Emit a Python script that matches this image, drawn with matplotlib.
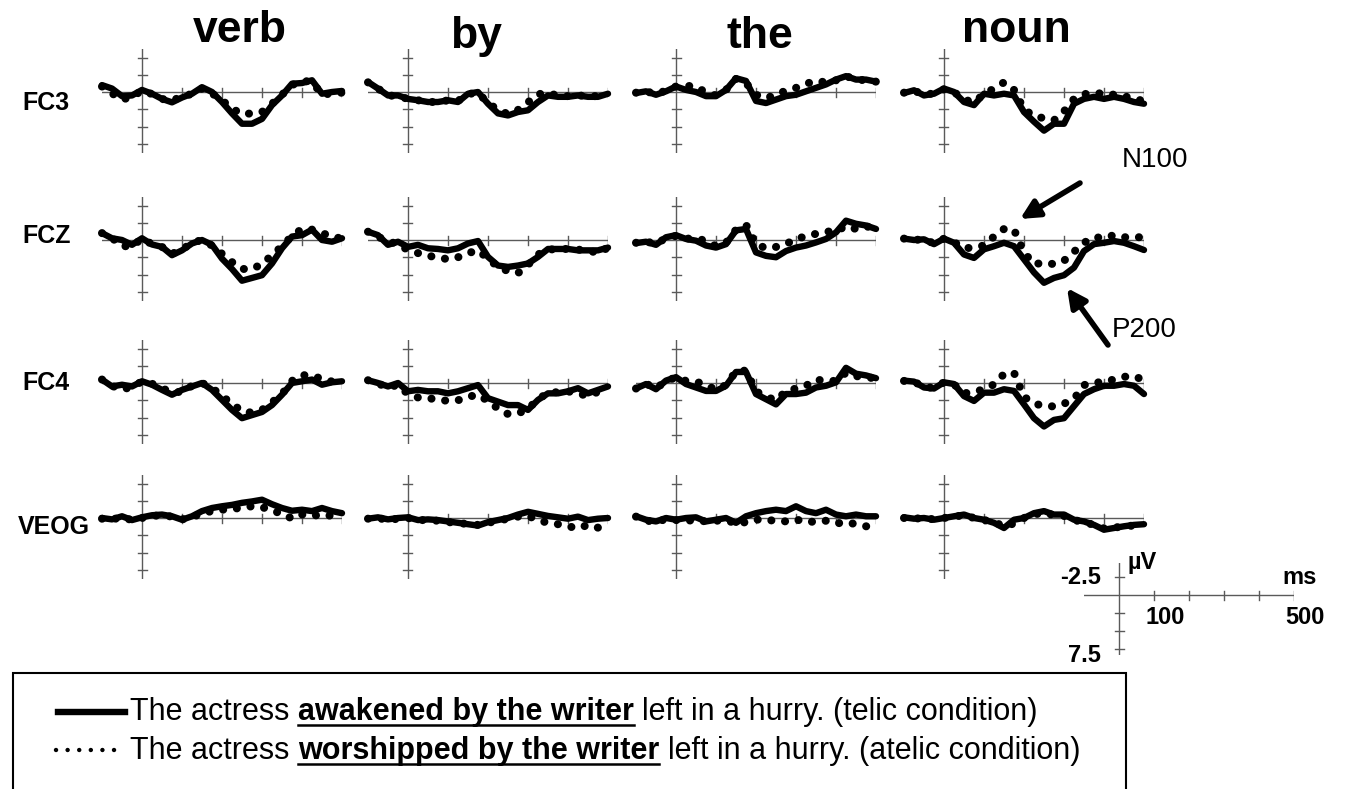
import matplotlib
matplotlib.use("Agg")
import matplotlib.pyplot as plt
from matplotlib.lines import Line2D
from matplotlib.patches import Rectangle, FancyArrowPatch

W, H = 1346, 789
FONT = "Liberation Sans"

# time axis (ms) shared by every waveform
TIMES = [-100, -75, -50, -25, 0, 25, 50, 75, 100, 125, 150, 175, 200,
         225, 250, 275, 300, 325, 350, 375, 400, 425, 450, 475, 500]

WORDS = ["verb", "by", "the", "noun"]
CHANNELS = ["FC3", "FCZ", "FC4", "VEOG"]

# µV, negative plotted up. telic = solid line, atelic = dotted line
FC3_VERB_TELIC = [-1.0, -0.5, 0.6, 0.5, -0.3, 0.25, 1.0, 1.5, 0.8, 0.25, -0.7, 0.0, 1.45, 3.1, 4.6, 4.6, 3.9, 1.9, 0.5, -1.2, -1.3, -1.7, 0.25, 0.0, -0.15]
FC3_VERB_ATELIC = [-0.8, 0.2, 1.1, 0.7, -0.2, 0.3, 1.0, 1.3, 0.6, 0.3, -0.5, 0.2, 1.2, 2.4, 3.2, 3.1, 2.9, 1.7, 0.4, -1.0, -1.6, -1.5, 0.4, 0.2, 0.1]
FC3_BY_TELIC = [-1.45, -0.5, 0.5, 0.5, 1.0, 1.2, 1.45, 1.45, 1.2, 1.45, 0.25, 0.0, 1.7, 3.1, 3.4, 2.9, 2.65, 1.45, 0.5, 0.7, 0.7, 0.5, 0.7, 0.7, 0.25]
FC3_BY_ATELIC = [-1.4, -0.5, 0.5, 0.6, 1.0, 1.2, 1.4, 1.5, 1.2, 1.3, 0.3, 0.1, 1.6, 2.6, 3.2, 2.6, 1.5, 0.3, 0.2, 0.5, 0.6, 0.5, 0.6, 0.6, 0.3]
FC3_THE_TELIC = [0.15, -0.1, 0.4, -0.1, -0.8, -0.3, 0.0, 0.6, 0.6, -0.3, -2.0, -1.6, 1.3, 1.6, 1.1, 0.6, 0.4, -0.1, -0.6, -1.1, -1.8, -2.3, -1.8, -1.8, -1.5]
FC3_THE_ATELIC = [0.1, -0.1, 0.3, -0.2, -0.8, -0.9, -0.8, 0.1, 0.5, -0.3, -1.9, -1.3, 0.4, 0.9, 0.4, -0.2, -0.6, -1.2, -1.6, -1.4, -1.7, -2.3, -1.8, -1.7, -1.5]
FC3_NOUN_TELIC = [0.15, -0.25, 0.5, 0.25, -0.5, 0.0, 1.45, 1.9, 0.25, 0.5, 0.25, 0.5, 2.9, 4.3, 5.6, 4.6, 4.6, 1.7, 1.0, 0.7, 1.0, 0.7, 1.0, 1.45, 1.7]
FC3_NOUN_ATELIC = [0.1, -0.2, 0.4, 0.2, -0.4, 0.0, 1.1, 1.5, 0.3, -0.5, -1.4, -0.3, 2.5, 3.5, 3.8, 4.1, 2.8, 1.0, 0.3, 0.2, 0.2, 0.4, 0.6, 1.0, 1.3]

FCZ_VERB_TELIC = [-1.0, -0.25, 0.0, 0.7, -0.25, 0.65, 1.0, 2.2, 1.5, 0.5, 0.0, 0.7, 2.7, 4.2, 5.9, 5.5, 5.1, 3.4, 1.2, -0.5, -0.7, -1.5, 0.0, 0.25, -0.25]
FCZ_VERB_ATELIC = [-1.0, -0.3, 0.9, 0.9, -0.2, 0.6, 1.0, 2.0, 1.4, 0.4, 0.0, 0.8, 2.0, 3.2, 4.2, 4.2, 3.5, 2.2, 0.9, -0.6, -1.6, -1.5, -1.0, -0.5, -0.2]
FCZ_BY_TELIC = [-1.2, -0.7, 0.7, 0.25, 1.0, 0.7, 1.2, 1.3, 1.5, 1.2, 0.5, 0.15, 2.45, 3.7, 3.9, 3.7, 3.4, 2.45, 1.3, 1.3, 1.3, 1.5, 1.5, 1.5, 1.1]
FCZ_BY_ATELIC = [-1.2, -0.5, 0.3, 0.5, 1.5, 1.9, 2.3, 2.5, 2.8, 2.5, 1.9, 1.5, 2.7, 3.9, 4.5, 4.8, 3.6, 2.1, 1.4, 1.3, 1.3, 1.4, 1.5, 1.9, 1.1]
FCZ_THE_TELIC = [0.45, 0.25, 0.7, -0.4, -0.7, -0.15, 0.1, 0.8, 1.1, 0.6, -1.4, -1.6, 1.8, 2.3, 2.5, 1.6, 1.1, 0.8, 0.35, -0.15, -1.1, -2.8, -2.35, -2.1, -1.6]
FCZ_THE_ATELIC = [0.4, 0.2, 0.6, -0.3, -0.6, -0.2, -0.2, 0.1, 0.9, 0.4, -1.5, -2.2, 0.6, 1.2, 1.0, 0.6, -0.2, -0.5, -0.9, -1.2, -1.3, -2.0, -1.6, -2.0, -1.6]
FCZ_NOUN_TELIC = [-0.2, 0.0, -0.1, 0.6, -0.2, 0.4, 2.1, 2.6, 1.35, 0.9, 0.4, 0.9, 2.8, 4.7, 6.2, 5.5, 5.1, 4.0, 1.6, 0.6, 0.4, 0.15, 0.4, 0.9, 1.45]
FCZ_NOUN_ATELIC = [-0.2, 0.0, -0.1, 0.5, -0.2, 0.3, 1.2, 1.1, 0.8, -0.5, -1.6, -1.5, 1.8, 3.5, 3.3, 3.5, 3.0, 1.7, 0.4, -0.4, -0.3, -0.7, -0.4, -0.4, -0.4]

FC4_VERB_TELIC = [-0.5, 0.5, 0.25, 0.5, -0.25, 0.25, 1.0, 1.7, 1.0, 0.5, 0.0, 1.0, 2.45, 3.9, 5.1, 4.65, 4.2, 3.2, 1.7, 0.0, -0.25, -0.5, 0.25, -0.1, -0.25]
FC4_VERB_ATELIC = [-0.5, 0.4, 1.0, 0.5, -0.2, 0.1, 0.8, 1.3, 1.3, 0.4, 0.0, 0.7, 1.9, 3.0, 4.1, 4.3, 3.9, 2.8, 1.6, -0.3, -1.2, -0.9, -0.7, -0.2, -0.2]
FC4_BY_TELIC = [-0.4, 0.0, 0.5, 0.0, 1.2, 1.0, 1.2, 1.2, 1.5, 1.2, 0.75, 0.3, 2.2, 2.7, 3.2, 3.2, 3.9, 2.45, 1.5, 1.5, 1.2, 0.75, 1.5, 1.0, 0.5]
FC4_BY_ATELIC = [-0.4, 0.1, 0.6, 0.3, 1.6, 2.1, 2.2, 2.4, 2.6, 2.5, 2.0, 1.7, 2.6, 3.7, 4.5, 4.4, 3.8, 2.3, 1.5, 1.3, 1.2, 1.6, 1.8, 1.3, 0.6]
FC4_THE_TELIC = [0.8, 0.15, 0.9, -0.35, -0.85, 0.15, 0.65, 1.15, 1.15, 0.4, -1.6, -1.6, 1.6, 2.35, 3.1, 1.6, 1.6, 1.4, 0.65, 0.4, -0.1, -2.2, -1.35, -1.1, -0.7]
FC4_THE_ATELIC = [0.8, 0.1, 0.8, -0.3, -0.8, -0.3, -0.2, 0.3, 1.0, 0.3, -1.7, -1.8, 1.2, 2.0, 2.5, 1.2, 0.8, 0.4, -0.5, -0.3, -0.3, -1.5, -1.0, -0.8, -0.7]
FC4_NOUN_TELIC = [-0.35, -0.2, 0.65, 0.8, -0.1, 0.15, 1.9, 2.6, 1.4, 1.4, 0.9, 1.15, 3.1, 5.1, 6.3, 5.35, 5.1, 3.35, 1.6, 0.9, 0.4, 0.4, 0.15, 0.4, 1.6]
FC4_NOUN_ATELIC = [-0.3, -0.2, 0.6, 0.7, -0.1, 0.2, 1.5, 1.3, 0.9, 0.2, -1.3, -1.5, 2.0, 3.0, 3.3, 3.4, 3.0, 2.3, 0.3, 0.0, -0.2, -0.5, -0.9, -1.0, -0.4]

VEOG_VERB_TELIC = [0.0, 0.2, -0.25, 0.3, -0.1, -0.4, -0.5, -0.25, 0.25, -0.25, -1.0, -1.45, -1.7, -1.9, -2.2, -2.4, -2.65, -2.0, -1.45, -1.05, -1.2, -1.0, -1.45, -1.0, -0.7]
VEOG_VERB_ATELIC = [0.1, 0.2, -0.1, 0.3, 0.0, -0.3, -0.4, -0.2, 0.2, -0.1, -0.7, -1.0, -1.2, -1.3, -1.5, -1.7, -1.6, -1.0, -0.7, 0.1, -0.5, -0.5, -0.2, -0.4, -0.3]
VEOG_BY_TELIC = [0.1, -0.1, 0.2, 0.0, -0.1, 0.3, 0.2, 0.3, 0.5, 0.7, 0.9, 1.1, 0.6, 0.3, 0.0, -0.5, -0.9, -0.6, -0.3, -0.1, 0.1, -0.2, 0.3, 0.1, 0.0]
VEOG_BY_ATELIC = [0.1, 0.0, 0.3, 0.1, 0.0, 0.3, 0.3, 0.4, 0.6, 0.7, 0.9, 1.0, 0.7, 0.4, 0.1, -0.2, -0.3, 0.3, 0.7, 0.9, 1.2, 1.5, 1.0, 1.4, 1.6]
VEOG_THE_TELIC = [-0.25, 0.25, 0.5, 0.0, 0.25, 0.0, -0.1, 0.5, 0.25, 0.0, 0.7, -0.25, -0.7, -1.0, -1.2, -1.0, -1.7, -1.0, -0.7, -1.2, -0.5, -0.25, -0.5, -0.25, -0.25]
VEOG_THE_ATELIC = [-0.2, 0.4, 0.5, 0.2, 0.3, 0.4, 0.3, 0.5, 0.4, 0.3, 0.8, 0.6, 0.2, 0.4, 0.3, 0.5, 0.2, 0.6, 0.5, 0.4, 0.8, 0.6, 0.9, 1.2, 1.4]
VEOG_NOUN_TELIC = [-0.1, 0.1, 0.0, 0.25, 0.0, -0.25, -0.5, 0.0, 0.25, 0.7, 1.45, 0.25, 0.0, -0.7, -1.0, -0.5, -0.5, 0.25, 0.5, 1.0, 1.7, 1.45, 1.2, 1.0, 0.9]
VEOG_NOUN_ATELIC = [0.0, 0.1, 0.0, 0.2, 0.0, -0.2, -0.4, 0.0, 0.3, 0.6, 1.2, 0.8, 0.0, -0.5, -0.8, -0.4, -0.3, 0.3, 0.6, 1.0, 1.5, 1.4, 1.2, 1.1, 0.9]

WAVES = {
    "FC3": [(FC3_VERB_TELIC, FC3_VERB_ATELIC), (FC3_BY_TELIC, FC3_BY_ATELIC),
            (FC3_THE_TELIC, FC3_THE_ATELIC), (FC3_NOUN_TELIC, FC3_NOUN_ATELIC)],
    "FCZ": [(FCZ_VERB_TELIC, FCZ_VERB_ATELIC), (FCZ_BY_TELIC, FCZ_BY_ATELIC),
            (FCZ_THE_TELIC, FCZ_THE_ATELIC), (FCZ_NOUN_TELIC, FCZ_NOUN_ATELIC)],
    "FC4": [(FC4_VERB_TELIC, FC4_VERB_ATELIC), (FC4_BY_TELIC, FC4_BY_ATELIC),
            (FC4_THE_TELIC, FC4_THE_ATELIC), (FC4_NOUN_TELIC, FC4_NOUN_ATELIC)],
    "VEOG": [(VEOG_VERB_TELIC, VEOG_VERB_ATELIC), (VEOG_BY_TELIC, VEOG_BY_ATELIC),
             (VEOG_THE_TELIC, VEOG_THE_ATELIC), (VEOG_NOUN_TELIC, VEOG_NOUN_ATELIC)],
}

Y_TICKS = [-5, -2.5, 2.5, 5, 7.5]
X_TICKS = [100, 200, 300, 400, 500]

# layout, in pixels from the top-left corner
COL_X = [142, 408, 676, 944]
ROW_Y = [92, 240, 383, 518]
PX_PER_MS = 0.4
PX_PER_UV = 6.9
Y_TOP, Y_BOT = -6.3, 8.9
AXIS_GREY = "#5a5a5a"


def fx(px):
    return px / W


def fy(py):
    return 1 - py / H


def add_panel_axes(x0, y0, px_ms, px_uv, ytop, ybot):
    left = x0 + (-100) * px_ms
    top = y0 + ytop * px_uv
    w = 600 * px_ms
    h = (ybot - ytop) * px_uv
    ax = fig.add_axes([fx(left), fy(top + h), w / W, h / H])
    ax.set_xlim(-100, 500)
    ax.set_ylim(ybot, ytop)
    ax.axis("off")
    return ax


def draw_frame(ax, ytop, ybot, yticks, px_ms, px_uv):
    ax.plot([-100, 500], [0, 0], color=AXIS_GREY, lw=1.0, zorder=1)
    ax.plot([0, 0], [ytop, ybot], color=AXIS_GREY, lw=1.0, zorder=1)
    hx = 4.5 / px_ms
    for v in yticks:
        ax.plot([-hx, hx], [v, v], color=AXIS_GREY, lw=1.0, zorder=1)
    hy = 4.5 / px_uv
    for t in X_TICKS:
        ax.plot([t, t], [-hy, hy], color=AXIS_GREY, lw=1.0, zorder=1)


fig = plt.figure(figsize=(W / 100, H / 100), dpi=100)
fig.patch.set_facecolor("white")

for r, ch in enumerate(CHANNELS):
    for c in range(4):
        ax = add_panel_axes(COL_X[c], ROW_Y[r], PX_PER_MS, PX_PER_UV, Y_TOP, Y_BOT)
        draw_frame(ax, Y_TOP, Y_BOT, Y_TICKS, PX_PER_MS, PX_PER_UV)
        telic, atelic = WAVES[ch][c]
        ax.plot(TIMES, atelic, color="black", lw=5.8, linestyle=(0, (0.01, 1.7)),
                dash_capstyle="round", clip_on=False, zorder=2)
        ax.plot(TIMES, telic, color="black", lw=4.6, solid_capstyle="round",
                solid_joinstyle="round", clip_on=False, zorder=3)

# column titles
TITLE_POS = [(240, 42), (476, 48), (760, 48), (1016, 42)]
for word, (x, y) in zip(WORDS, TITLE_POS):
    fig.text(fx(x), fy(y), word, ha="center", va="baseline", fontsize=32,
             fontweight="bold", family=FONT)

# channel labels
LABEL_POS = [(22, 103), (22, 236), (22, 383), (18, 527)]
for ch, (x, y) in zip(CHANNELS, LABEL_POS):
    fig.text(fx(x), fy(y), ch, ha="left", va="center", fontsize=18,
             fontweight="bold", family=FONT)

# component annotations
ARROW = dict(arrowstyle="-|>", lw=4, color="black", mutation_scale=28,
             shrinkA=0, shrinkB=0)
fig.text(fx(1122), fy(160), "N100", ha="left", va="center", fontsize=20, family=FONT)
fig.add_artist(FancyArrowPatch((fx(1080), fy(183)), (fx(1020), fy(219)),
                               transform=fig.transFigure, **ARROW))
fig.text(fx(1112), fy(330), "P200", ha="left", va="center", fontsize=20, family=FONT)
fig.add_artist(FancyArrowPatch((fx(1108), fy(345)), (fx(1067), fy(288)),
                               transform=fig.transFigure, **ARROW))

# calibration scale
SC_X, SC_Y = 1119, 595
sc = add_panel_axes(SC_X, SC_Y, 0.35, 7.2, -4.4, 8.4)
draw_frame(sc, -4.4, 8.4, [-2.5, 2.5, 5, 7.5], 0.35, 7.2)
for txt, x, y, ha in [("-2.5", 1101, 578, "right"), ("7.5", 1101, 656, "right"),
                      ("100", 1165, 618, "center"), ("500", 1305, 618, "center"),
                      ("ms", 1300, 578, "center"), ("µV", 1142, 562, "center")]:
    fig.text(fx(x), fy(y), txt, ha=ha, va="center", fontsize=17, fontweight="bold",
             family=FONT)

# legend box
fig.add_artist(Rectangle((fx(13), fy(792)), fx(1126 - 13), (792 - 673) / H,
                         transform=fig.transFigure, fill=False, lw=1.5,
                         edgecolor="black"))
fig.add_artist(Line2D([fx(58), fx(125)], [fy(712), fy(712)], color="black", lw=4.6,
                      transform=fig.transFigure))
fig.add_artist(Line2D([fx(56), fx(118)], [fy(750), fy(750)], color="black", lw=3.2,
                      linestyle=(0, (0.01, 2.6)), dash_capstyle="round",
                      transform=fig.transFigure))

LEG_FS = 22
LEGEND_ROWS = [
    ("The actress", "awakened by the writer", "left in a hurry. (telic condition)", 712),
    ("The actress", "worshipped by the writer", "left in a hurry. (atelic condition)", 751),
]
renderer = fig.canvas.get_renderer()
probe = fig.text(0, 0, "a a", fontsize=LEG_FS, family=FONT)
w_spaced = probe.get_window_extent(renderer).width
probe.set_text("aa")
space_w = w_spaced - probe.get_window_extent(renderer).width
probe.remove()

for pre, bold, post, y in LEGEND_ROWS:
    x = 130
    t1 = fig.text(fx(x), fy(y), pre, ha="left", va="center", fontsize=LEG_FS, family=FONT)
    x += t1.get_window_extent(renderer).width + space_w
    t2 = fig.text(fx(x), fy(y), bold, ha="left", va="center", fontsize=LEG_FS,
                  fontweight="bold", family=FONT)
    bw = t2.get_window_extent(renderer).width
    fig.add_artist(Line2D([fx(x), fx(x + bw)], [fy(y + 13), fy(y + 13)], color="black",
                          lw=1.8, transform=fig.transFigure))
    x += bw + space_w
    fig.text(fx(x), fy(y), post, ha="left", va="center", fontsize=LEG_FS, family=FONT)

fig.savefig("out.png", dpi=100, facecolor="white")
